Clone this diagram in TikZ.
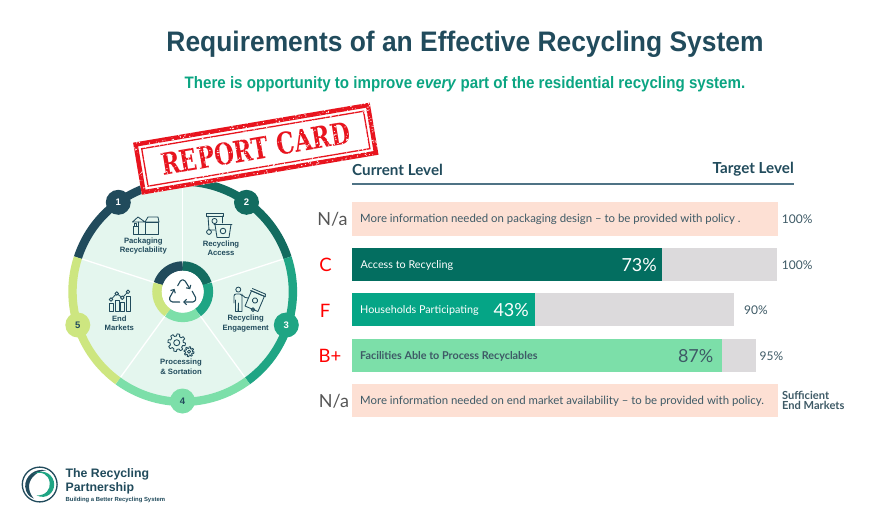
\documentclass[tikz,border=0pt]{standalone}
\usepackage{fontspec}
\setmainfont{Lato}
\newfontfamily\headfont{Liberation Sans}
\newfontfamily\stampfont{DejaVu Serif}
\usetikzlibrary{arrows.meta}
\definecolor{navy}{HTML}{214B5C}
\definecolor{tealdk}{HTML}{136C60}
\definecolor{tealbar}{HTML}{036E60}
\definecolor{tealmd}{HTML}{1FA584}
\definecolor{tealbar2}{HTML}{05A586}
\definecolor{mint}{HTML}{7CDFA9}
\definecolor{lime}{HTML}{CDE680}
\definecolor{pale}{HTML}{E4F6EE}
\definecolor{peach}{HTML}{FDE0D4}
\definecolor{greybar}{HTML}{DCDADC}
\definecolor{bodytxt}{HTML}{3E5A66}
\definecolor{gradegrey}{HTML}{555555}
\definecolor{subgreen}{HTML}{0BA582}
\definecolor{stampred}{HTML}{E8141E}
\definecolor{ruleblue}{HTML}{4F7385}
\newcommand{\fs}[1]{\fontsize{#1}{#1}\selectfont}
\tikzset{
 rowtxt/.style={anchor=west,inner sep=0pt,font=\fs{11.4},text=bodytxt},
 rowname/.style={anchor=west,inner sep=0pt,font=\fs{10.8},text=white},
 pct/.style={anchor=east,inner sep=0pt,font=\fs{18}},
 grade/.style={inner sep=0pt,font=\fs{18.5},text=red},
 gradena/.style={inner sep=0pt,font=\fs{18},text=gradegrey},
 target/.style={anchor=west,inner sep=0pt,font=\fs{12},text=bodytxt},
 wheeltxt/.style={align=center,inner sep=0pt,font=\headfont\bfseries\fs{7.7},text=navy},
 numdot/.style={circle,minimum size=25pt,inner sep=0pt,font=\headfont\bfseries\fs{9.5}},
 icon/.style={draw=navy,line width=.85pt,line join=round,line cap=round},
 recyc/.style={icon,line width=1.1pt,rounded corners=1.3pt,-{Straight Barb[length=2.6pt,width=5.5pt]}},
}
\newcommand{\geardraw}[6]{%
 \draw[icon] plot[domain=0:360,samples=145] (\x:{#3+#4*max(min(3*sin(#5*\x),1),-1)}) -- cycle;
 \draw[icon] (0,0) circle (#6);}
\newcommand{\ringseg}[3]{\draw[#3,line width=8.4pt] (#1:110.2) arc[start angle=#1,end angle=#2,radius=110.2];}
\newcommand{\innerseg}[3]{\draw[#3,line width=9.5pt] (#1:25.7) arc[start angle=#1,end angle=#2,radius=25.7];}
\begin{document}
\begin{tikzpicture}[x=1pt,y=-1pt]
\useasboundingbox (0,0) rectangle (885,508);
\fill[white] (0,0) rectangle (885,508);

% titles
\node[inner sep=0pt,text=navy,font=\headfont\bfseries\fs{28.2}] (title) at (465,44) {\scalebox{.936}[1]{Requirements of an Effective Recycling System}};
\node[inner sep=0pt,text=subgreen,font=\headfont\bfseries\fs{16.6}] (subtitle) at (465,84) {\scalebox{.91}[1]{There is opportunity to improve \textit{every} part of the residential recycling system.}};

% wheel
\begin{scope}[shift={(182.7,291.7)},y=1pt]
 \fill[pale] (0,0) circle (108);
 \foreach \a in {90,18,-54,-126,162} \draw[white,line width=1.3pt] (\a:28) -- (\a:106);
 \innerseg{162}{90}{navy}
 \innerseg{90}{18}{tealdk}
 \innerseg{18}{-54}{tealmd}
 \innerseg{-54}{-126}{mint}
 \innerseg{-126}{-198}{lime}
 \fill[white] (0,0) circle (21);
 \ringseg{162}{90}{navy}
 \ringseg{90}{18}{tealdk}
 \ringseg{18}{-54}{tealmd}
 \ringseg{-54}{-126}{mint}
 \ringseg{-126}{-198}{lime}
\end{scope}
% centre recycle symbol
\begin{scope}[shift={(182.7,291.7)}]
 \draw[recyc] (-5,-6) -- (-1.7,-11.8) -- (1.7,-11.8) -- (7.5,-2.5);
 \draw[recyc] (9.5,-.5) -- (13.6,7) -- (11.5,10.3) -- (.5,10.3);
 \draw[recyc] (-3,10.3) -- (-11.5,10.3) -- (-13.6,7) -- (-8.2,-2.8);
\end{scope}
\node[numdot,fill=navy,text=white] (n1) at (118.3,202.3) {1};
\node[numdot,fill=tealdk,text=white] (n2) at (246.5,202.3) {2};
\node[numdot,fill=tealmd,text=white] (n3) at (286.3,325) {3};
\node[numdot,fill=mint,text=navy] (n4) at (182.5,401) {4};
\node[numdot,fill=lime,text=navy] (n5) at (77.8,325) {5};

% wheel labels
\node[wheeltxt] (l1) at (143.3,246) {Packaging\\[1.6pt]Recyclability};
\node[wheeltxt] (l2) at (221,248.5) {Recycling\\[1.6pt]Access};
\node[wheeltxt] (l3) at (245.7,323.5) {Recycling\\[1.6pt]Engagement};
\node[wheeltxt] (l4) at (181,366.7) {Processing\\[1.6pt]\&\ Sortation};
\node[wheeltxt] (l5) at (119.3,323.5) {End\\[1.6pt]Markets};

% package icon
\draw[icon] (145,222) rectangle (158,234);
\draw[icon] (138,222) -- (138,234) -- (145,234);
\draw[icon] (132.5,222) -- (138,217) -- (145,222) -- (132.5,222);
\draw[icon] (145,222) -- (148,217) -- (158,217) -- (159,222) -- (145,222);
\draw[icon] (133,226) rectangle (138,234);
\draw[icon] (134.5,226) -- (134.5,223) -- (136.5,223) -- (136.5,226);
% bins icon
\draw[icon] (206.5,213) rectangle (223.5,216);
\draw[icon] (208,216) -- (209,230) -- (215,230);
\draw[icon] (222,216) -- (222,223);
\draw[icon] (214.5,221) circle (2.6);
\draw[icon] (209,232) circle (2.4);
\draw[icon] (214,224.5) -- (232,224.5);
\draw[icon] (215,224.5) -- (217,237.5) -- (229,237.5) -- (231,224.5);
\draw[icon] (223,231) circle (2.8);
% engagement icon
\draw[icon] (238.3,289.6) circle (2.5);
\draw[icon,rounded corners=2pt] (234,303) -- (234,294) -- (242,294) -- (243,297) -- (248,298);
\draw[icon] (242,294) -- (242,311.5) -- (238.5,311.5) -- (238.5,303) -- (238,311.5) -- (235.5,311.5) -- (235.5,300);
\begin{scope}[shift={(255,300.5)},rotate=-23]
 \draw[icon] (-7,-7.5) rectangle (7,9);
 \draw[icon] (-8,-7.5) -- (8,-7.5);
 \draw[icon] (-7,-10) -- (7,-10) -- (8,-7.5);
 \draw[icon] (0,0) circle (2.6);
\end{scope}
\draw[icon] (253,309.6) circle (1.9);
% gears icon
\begin{scope}[shift={(176.7,342.7)}]\geardraw{}{}{7.7}{1.1}{8}{3}\end{scope}
\begin{scope}[shift={(189,351.7)}]\geardraw{}{}{4.2}{.8}{8}{1.6}\end{scope}
% chart icon
\draw[icon] (109.3,303.5) rectangle (113.3,311.7);
\draw[icon] (115,300.5) rectangle (119,311.7);
\draw[icon] (120.7,302.5) rectangle (124.5,311.7);
\draw[icon] (126,296.8) rectangle (130,311.7);
\draw[icon] (111,299.5) -- (116.7,293.5) -- (122.3,297.7) -- (128,291.8);
\foreach \p in {(111,299.5),(116.7,293.5),(122.3,297.7),(128,291.8)} \filldraw[icon,fill=pale] \p circle (1.8);

% stamp
\begin{scope}[shift={(255.8,148.7)},y=1pt,rotate=9.6]
 \fill[white] (-120,-26.4) rectangle (120,26.4);
 \draw[stampred,line width=4.4pt] (-117.8,-24.2) rectangle (117.8,24.2);
 \draw[stampred,line width=1.3pt] (-112.5,-19) rectangle (112.5,19);
 \node[transform shape,inner sep=0pt,text=stampred,font=\stampfont\bfseries\fs{30}] (stamp) at (0,0) {\scalebox{.76}[1]{REPORT CARD}};
 \pgfmathsetseed{1234}
 \foreach \i in {1,...,1000} {
  \pgfmathsetmacro{\sx}{rand*120}
  \pgfmathsetmacro{\sy}{rand*26.4}
  \pgfmathsetmacro{\sr}{.25+.5*rnd}
  \fill[white] (\sx,\sy) circle (\sr);
 }
\end{scope}

% header
\node[anchor=west,inner sep=0pt,text=navy,font=\bfseries\fs{15.2}] (hcur) at (352,169.5) {Current Level};
\node[anchor=east,inner sep=0pt,text=navy,font=\bfseries\fs{15.2}] (htar) at (794,169.5) {Target Level};
\draw[ruleblue,line width=1.5pt] (352,184) -- (794,184);

% row 1
\fill[peach] (352,202) rectangle (777.7,235.5);
\node[rowtxt] (r1) at (360,219.5) {More information needed on packaging design -- to be provided with policy .};
\node[gradena] (g1) at (332.5,219) {N/a};
\node[target] (t1) at (781.7,219.2) {100\%};
% row 2
\fill[greybar] (352,247.7) rectangle (777,281);
\fill[tealbar] (352,247.7) rectangle (662,281);
\node[rowname] (r2) at (360.5,265.2) {Access to Recycling};
\node[pct,text=white] (p2) at (657,265) {73\%};
\node[grade] (g2) at (325.5,265) {C};
\node[target] (t2) at (781.7,265) {100\%};
% row 3
\fill[greybar] (352,293.3) rectangle (734.3,326.3);
\fill[tealbar2] (352,293.3) rectangle (535,326.3);
\node[rowname] (r3) at (360,310.5) {Households Participating};
\node[pct,text=white] (p3) at (529,310.5) {43\%};
\node[grade] (g3) at (325,310.5) {F};
\node[target] (t3) at (744,310.5) {90\%};
% row 4
\fill[greybar] (352,338.7) rectangle (755.7,372);
\fill[mint] (352,338.7) rectangle (721.7,372);
\node[rowname,text=bodytxt,font=\fs{10.8}\bfseries] (r4) at (360,356) {Facilities Able to Process Recyclables};
\node[pct,text=bodytxt] (p4) at (713.5,356) {87\%};
\node[grade] (g4) at (330,355.5) {B+};
\node[target] (t4) at (759.5,356) {95\%};
% row 5
\fill[peach] (352,384) rectangle (777.7,417);
\node[rowtxt] (r5) at (360,401) {More information needed on end market availability -- to be provided with policy.};
\node[gradena] (g5) at (334,401) {N/a};
\node[anchor=west,align=left,inner sep=0pt,text=bodytxt,font=\bfseries\fs{11.1}] (t5) at (782,400.5) {Sufficient\\[-.5pt]End Markets};

% logo
\begin{scope}[shift={(39.7,484.5)},y=1pt]
 \draw[navy,line width=1.3pt] (0,0) circle (17.4);
 \fill[navy] (65:15.5) .. controls (-5,17) and (-15,8) .. (-14.5,-2) .. controls (-14,-8) and (-11,-12) .. (-6,-14) .. controls (-10,-9) and (-11,-5) .. (-10.5,0) .. controls (-9.5,7) and (-2,14) .. (65:15.5) -- cycle;
 \fill[tealmd] (-7,10.5) .. controls (2,14) and (9,10) .. (10,2) .. controls (11,-5) and (6,-11) .. (-3,-11) .. controls (7,-15.5) and (14.5,-8) .. (14.5,0) .. controls (14.5,9) and (5,17) .. (-7,10.5) -- cycle;
\end{scope}
\node[anchor=west,inner sep=0pt,text=navy,font=\headfont\bfseries\fs{12.3}] (lg1) at (65.5,474.5) {The Recycling};
\node[anchor=west,inner sep=0pt,text=navy,font=\headfont\bfseries\fs{12.3}] (lg2) at (65.5,488) {Partnership};
\node[anchor=west,inner sep=0pt,text=navy,font=\headfont\bfseries\fs{5.9}] (lg3) at (65.5,499.5) {Building a Better Recycling System};
\end{tikzpicture}
\end{document}
